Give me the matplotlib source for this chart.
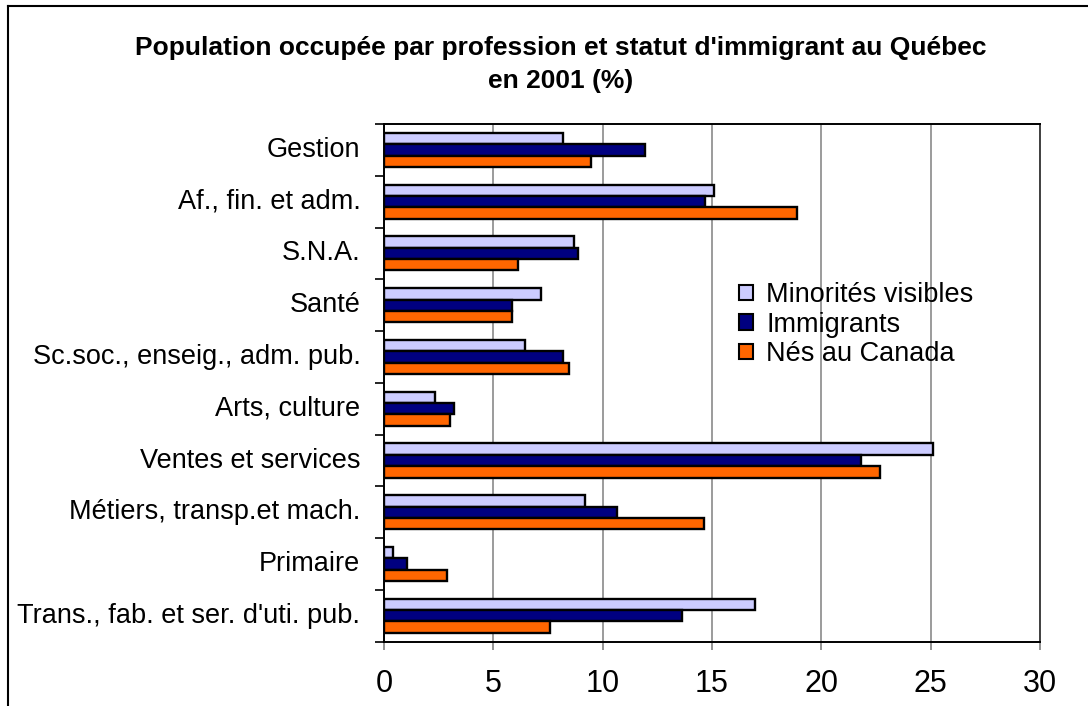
import matplotlib
matplotlib.use("Agg")
import matplotlib.pyplot as plt
import numpy as np
from matplotlib.lines import Line2D

categories = ["Gestion", "Af., fin. et adm.", "S.N.A.", "Santé",
              "Sc.soc., enseig., adm. pub.", "Arts, culture",
              "Ventes et services", "Métiers, transp.et mach.",
              "Primaire", "Trans., fab. et ser. d'uti. pub."]
minorites = [8.2, 15.1, 8.7, 7.2, 6.45, 2.35, 25.1, 9.2, 0.4, 16.95]
immigrants = [11.95, 14.7, 8.85, 5.85, 8.2, 3.2, 21.8, 10.65, 1.05, 13.65]
nes_canada = [9.45, 18.9, 6.15, 5.85, 8.45, 3.0, 22.7, 14.65, 2.9, 7.6]
series_names = ["Minorités visibles", "Immigrants", "Nés au Canada"]
xticks = [0, 5, 10, 15, 20, 25, 30]
title = "Population occupée par profession et statut d'immigrant au Québec\nen 2001 (%)"

colors = ["#CCCCFF", "#000080", "#FF6600"]

plt.rcParams['font.family'] = ['Liberation Sans', 'DejaVu Sans']

W, H = 1088, 706
fig = plt.figure(figsize=(W / 100, H / 100), dpi=100)
ax = fig.add_axes([384 / W, 1 - 641.7 / H, (1040 - 384) / W, (641.7 - 124) / H])

y = np.arange(len(categories))
bh = 0.219
for k, (vals, c) in enumerate(zip([minorites, immigrants, nes_canada], colors)):
    ax.barh(y + (k - 1) * bh, vals, height=bh, color=c, edgecolor="black",
            linewidth=1.7, zorder=3, label=series_names[k])

ax.set_xlim(0, 30)
ax.set_ylim(len(categories) - 0.5, -0.5)
ax.set_xticks(xticks)
ax.set_xticklabels([str(t) for t in xticks], fontsize=22)
ax.set_yticks(y)
ax.set_yticklabels(categories, fontsize=19.5, va='center')
ax.set_yticks(np.arange(len(categories) + 1) - 0.5, minor=True)
ax.tick_params(axis='y', which='major', length=0, pad=17)
ax.tick_params(axis='y', which='minor', length=6.5, width=1.2, color='black', left=True)
ax.tick_params(axis='x', which='major', length=6, width=1.2, color='#808080', pad=14)

ax.grid(axis='x', color='#808080', linewidth=1.1, zorder=0)
for s in ['left', 'bottom', 'top']:
    ax.spines[s].set_color('black')
    ax.spines[s].set_linewidth(1.4)
ax.spines['right'].set_color('#404040')
ax.spines['right'].set_linewidth(1.4)

handles = [plt.Rectangle((0, 0), 1, 1, facecolor=c, edgecolor='black', linewidth=1.5)
           for c in colors]
fig.legend(handles, series_names, loc='upper left',
           bbox_to_anchor=(739 / W, 1 - 282 / H), frameon=False,
           fontsize=19.5, handlelength=0.5, handleheight=0.5,
           handletextpad=0.5, labelspacing=0.13, borderpad=0,
           borderaxespad=0)

fig.text(561 / W, 1 - 64.5 / H, title, ha='center', va='center',
         fontsize=19, fontweight='bold', linespacing=1.5)

# outer chart border (top and left)
fig.add_artist(Line2D([8 / W, 1.0], [1 - 5.5 / H, 1 - 5.5 / H], color='black', linewidth=1.5,
                      transform=fig.transFigure))
fig.add_artist(Line2D([8 / W, 8 / W], [0, 1 - 5.5 / H], color='black', linewidth=1.5,
                      transform=fig.transFigure))

fig.savefig("out.png", dpi=100)
